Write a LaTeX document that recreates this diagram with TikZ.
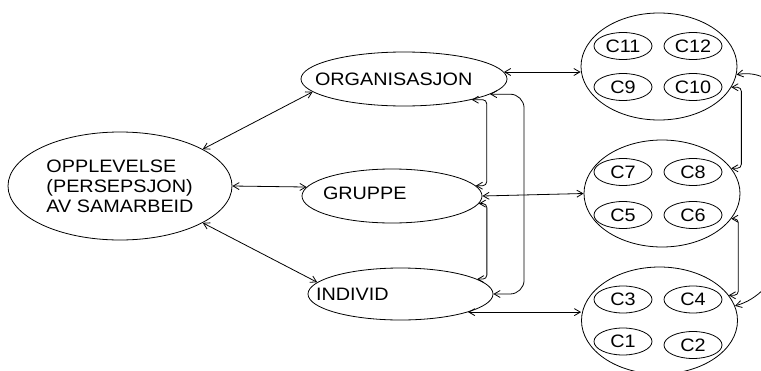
\documentclass[tikz,border=0pt]{standalone}
\usepackage{fontspec}
\setmainfont[FakeStretch=1.1]{Liberation Sans}
\usetikzlibrary{arrows.meta,positioning,shapes.geometric}

\begin{document}
\begin{tikzpicture}[x=1pt,y=-1pt,line width=0.8pt,
  >={Straight Barb[length=6pt,width=7pt]},
  txt/.style={font=\fontsize{18}{20}\selectfont},
  oval/.style={draw,ellipse,inner sep=0pt,txt},
  cluster/.style={draw,ellipse,minimum width=156pt,minimum height=107pt},
  cnode/.style={oval,minimum width=58pt,minimum height=27pt},
  link/.style={<->},
  bracket/.style={<->,rounded corners=4pt}]
% ---------- frame ----------
\useasboundingbox (0,0) rectangle (761,370);
\clip (0,0) rectangle (761,370);
% ---------- left: experience ----------
\node[oval,align=left,minimum width=224pt,minimum height=108pt] (opp) at (120,186)
  {OPPLEVELSE\\(PERSEPSJON)\\AV SAMARBEID};
% ---------- middle: levels ----------
\node[oval,minimum width=206pt,minimum height=54pt] (org) at (404,79) {};
\node[oval,minimum width=180pt,minimum height=54pt] (grp) at (392,196) {};
\node[oval,minimum width=185pt,minimum height=52pt] (ind) at (400.5,294) {};
\node[txt,inner sep=0pt,right=14pt of org.west] (orgtxt) {ORGANISASJON};
\node[txt,inner sep=0pt,right=21pt of grp.west,yshift=3pt] (grptxt) {GRUPPE};
\node[txt,inner sep=0pt,right=8pt of ind.west] (indtxt) {INDIVID};
% ---------- right: clusters ----------
\node[cluster] (cl1) at (659,66.5) {};
\node[cluster] (cl2) at (662,193.5) {};
\node[cluster] (cl3) at (659.5,320.5) {};
\foreach \name/\x/\y in {C11/623/46,C12/693/46,C9/623/87,C10/693/87,
                         C7/623/172,C8/693/172,C5/623/215,C6/693/215,
                         C3/623/299.5,C4/693/299.5,C1/623/341.5,C2/693/345}
  \node[cnode] (\name) at (\x,\y) {\name};
% ---------- experience <-> levels ----------
\draw[link] (opp.24) -- (org.188);
\draw[link] (opp.east) -- (grp.174);
\draw[link] (opp.-24) -- (ind.172);
% ---------- levels <-> clusters ----------
\draw[link] (org.4) -- (org.4 -| cl1.west);
\draw[link] (grp.east) -- (cl2.west);
\draw[link] (ind.-15) -- (ind.-15 -| cl3.west);
% ---------- between levels ----------
\draw[bracket] (org.-17) -- ++(15,0) |- (grp.7);
\draw[bracket] (grp.-5) -- ++(8,0) |- (ind.11);
\draw[bracket,rounded corners=14pt] (org.-10) -- ++(34,0) |- (ind.east);
% ---------- between clusters ----------
\draw[bracket] (cl1.-16) -- ++(10,0) |- (cl2.20);
\draw[bracket] (cl2.-20) -- ++(7,0) |- (cl3.20);
\draw[link] (cl1.-6) to[out=10,in=15] (cl3.11);
\end{tikzpicture}
\end{document}
